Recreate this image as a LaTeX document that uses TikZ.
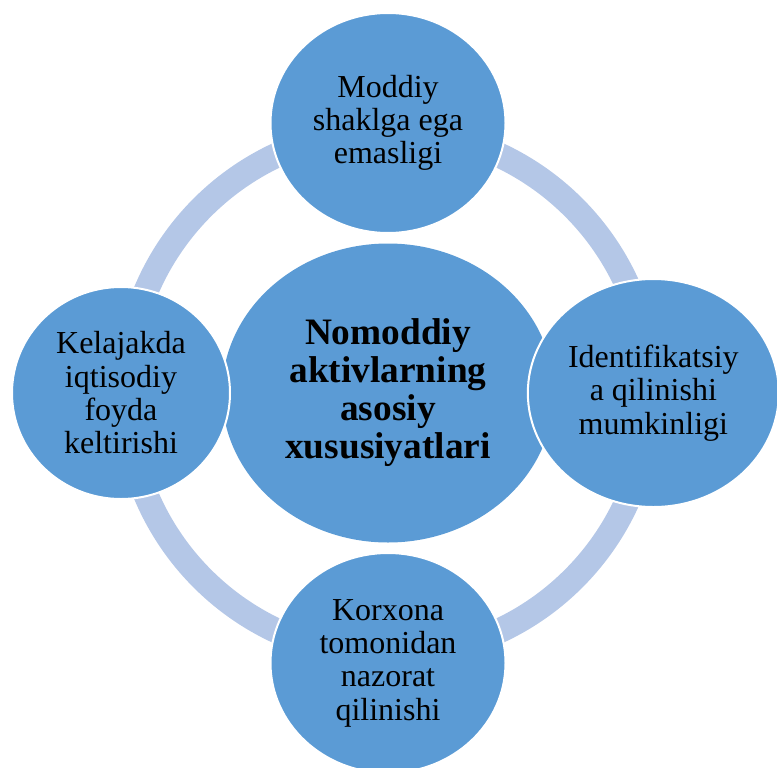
\documentclass[tikz,border=0pt]{standalone}
\usepackage{fontspec}
\setmainfont{Liberation Serif}
\usepackage{tikz}
\usetikzlibrary{positioning,shapes.geometric}
\definecolor{blobblue}{HTML}{5B9BD5}
\definecolor{ringblue}{HTML}{B4C7E7}

\begin{document}
\begin{tikzpicture}[on grid,x=0.75pt,y=-0.75pt,
  blob/.style={ellipse,fill=blobblue,draw=white,line width=1.5pt,inner sep=0pt,
    align=center,text=black,font=\fontsize{24}{25}\selectfont},
  hubtext/.style={font=\bfseries\fontsize{28}{28.5}\selectfont}]
  \useasboundingbox (0,0) rectangle (777,767);
  \clip (0,0) rectangle (777,767);
  \coordinate (hub) at (388,393);
  \draw[ringblue,line width=18.75pt] (hub) circle [radius=262.5];
  \node[blob,hubtext,draw=none,minimum width=249pt,minimum height=224.25pt]
    (core) at (hub) {Nomoddiy\\aktivlarning\\asosiy\\xususiyatlari};
  \node[blob,minimum width=176.25pt,minimum height=165pt,above=202.5pt of core]
    (moddiy) {Moddiy\\shaklga ega\\emasligi};
  \node[blob,minimum width=188.25pt,minimum height=171pt,right=199pt of core]
    (identif) {Identifikatsiy\\a qilinishi\\mumkinligi};
  \node[blob,minimum width=176.25pt,minimum height=165pt,below=202.5pt of core]
    (nazorat) {Korxona\\tomonidan\\nazorat\\qilinishi};
  \node[blob,minimum width=163.5pt,minimum height=159pt,left=200.25pt of core]
    (foyda) {Kelajakda\\iqtisodiy\\foyda\\keltirishi};
\end{tikzpicture}
\end{document}
